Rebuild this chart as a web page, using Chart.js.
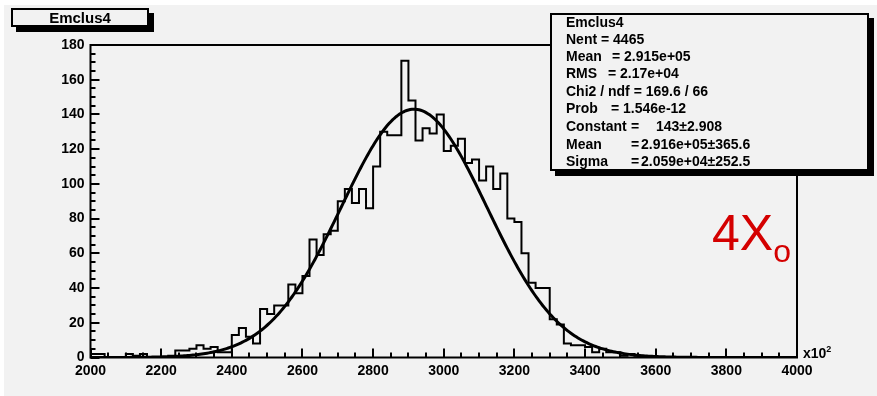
<!DOCTYPE html>
<html lang="en">
<head>
<meta charset="UTF-8">
<title>Emclus4</title>
<style>
  body { margin: 0; background: #ffffff; }
  .pad { position: relative; width: 877px; height: 396px; overflow: hidden; }
  .fill { position: absolute; left: 4px; top: 5px; right: 0; bottom: 0; background: #f2f2f2; }
  canvas { position: absolute; left: 0; top: 0; }
  .box {
    position: absolute;
    box-sizing: border-box;
    background: #f2f2f2;
    border: 2px solid #000;
    box-shadow: 5px 5px 0 #000;
    font: bold 14px Arial, "Liberation Sans", sans-serif;
    color: #000;
  }
  #title { left: 11px; top: 8px; width: 138px; height: 19px; text-align: center; line-height: 15px; font-size: 15px; }
  #stats { left: 550px; top: 13px; width: 319px; height: 158px; }
  #stats span { position: absolute; white-space: pre; line-height: 16px; }
  .xo {
    position: absolute; left: 712px; top: 204px;
    font: 50px Arial, "Liberation Sans", sans-serif; color: #d40000;
  }
  .xo sub { font-size: 32px; vertical-align: -12px; }
  .mult {
    position: absolute; left: 803px; top: 344px;
    font: bold 14px Arial, "Liberation Sans", sans-serif;
  }
  .mult sup { font-size: 9px; vertical-align: 6px; }
</style>
</head>
<body>
<div class="pad">
  <div class="fill"></div>
  <canvas id="hist" width="877" height="396"></canvas>
  <div class="box" id="title">Emclus4</div>
  <div class="box" id="stats">
    <span style="left:14px;top:-1px">Emclus4</span>
    <span style="left:14px;top:16px">Nent = 4465</span>
    <span style="left:14px;top:33px">Mean</span><span style="left:60px;top:33px">= 2.915e+05</span>
    <span style="left:14px;top:50px">RMS</span><span style="left:56px;top:50px">= 2.17e+04</span>
    <span style="left:14px;top:68px">Chi2 / ndf = 169.6 / 66</span>
    <span style="left:14px;top:85px">Prob</span><span style="left:59px;top:85px">= 1.546e-12</span>
    <span style="left:14px;top:103px">Constant</span><span style="left:79px;top:103px">=</span><span style="left:104px;top:103px">143±2.908</span>
    <span style="left:14px;top:121px">Mean</span><span style="left:79px;top:121px">=</span><span style="left:89px;top:121px">2.916e+05±365.6</span>
    <span style="left:14px;top:138px">Sigma</span><span style="left:79px;top:138px">=</span><span style="left:89px;top:138px">2.059e+04±252.5</span>
  </div>
  <div class="xo">4X<sub>o</sub></div>
  <div class="mult">x10<sup>2</sup></div>
</div>

<script src="https://cdn.jsdelivr.net/npm/chart.js/dist/chart.umd.min.js"></script>
<script>
// histogram binning (axis in units of x10^2)
const binLow = 2000
const binWidth = 20
const counts = [
  2, 2, 0, 0, 0, 2, 1, 2, 0, 0,
  0, 1, 4, 4, 5, 7, 5, 6, 3, 3,
  13, 17, 12, 8, 28, 25, 30, 30, 42, 37,
  47, 68, 59, 71, 73, 90, 97, 89, 97, 86,
  110, 130, 128, 128, 171, 148, 125, 132, 129, 140,
  119, 122, 126, 112, 114, 102, 110, 97, 106, 80,
  78, 60, 43, 40, 40, 22, 19, 8, 7, 7,
  6, 3, 5, 3, 3, 1, 2, 1, 0, 0,
  0, 0, 0, 0, 0, 0, 0, 0, 0, 0,
  0, 0, 0, 0, 0, 0, 0, 0, 0, 0
]

// gaussian fit result
const fitConstant = 143
const fitMean = 2916
const fitSigma = 205.9

const xMin = 2000, xMax = 4000
const yMin = 0, yMax = 180

// step outline: one point per lower bin edge plus the closing edge
const histPoints = counts.map((c, i) => ({ x: binLow + i * binWidth, y: c }))
histPoints.push({ x: binLow + counts.length * binWidth, y: counts[counts.length - 1] })

const fitPoints = []
for (let x = xMin; x <= xMax; x += 5) {
  const t = (x - fitMean) / fitSigma
  fitPoints.push({ x: x, y: fitConstant * Math.exp(-0.5 * t * t) })
}

const labelFont = { family: 'Arial, "Liberation Sans", sans-serif', size: 14, weight: 'bold' }

// frame + inward ticks, drawn over the histogram like ROOT axes
const rootAxes = {
  id: 'rootAxes',
  afterDatasetsDraw(chart) {
    const { ctx, chartArea: a, scales: { x, y } } = chart
    ctx.save()
    ctx.strokeStyle = '#000'
    ctx.lineWidth = 2
    ctx.strokeRect(a.left, a.top, a.right - a.left, a.bottom - a.top)
    ctx.beginPath()
    for (let v = xMin; v <= xMax; v += 50) {
      const px = Math.round(x.getPixelForValue(v))
      const len = v % 200 === 0 ? 9 : 5
      ctx.moveTo(px, a.bottom)
      ctx.lineTo(px, a.bottom - len)
    }
    for (let v = yMin; v <= yMax; v += 5) {
      const py = Math.round(y.getPixelForValue(v))
      const len = v % 20 === 0 ? 9 : 5
      ctx.moveTo(a.left, py)
      ctx.lineTo(a.left + len, py)
    }
    ctx.stroke()
    ctx.restore()
  }
}

new Chart(document.getElementById('hist'), {
  type: 'line',
  data: {
    datasets: [
      {
        label: 'fit',
        data: fitPoints,
        borderColor: '#000',
        borderWidth: 3,
        pointRadius: 0,
        tension: 0,
        order: 0
      },
      {
        label: 'Emclus4',
        data: histPoints,
        stepped: 'before',
        borderColor: '#000',
        borderWidth: 2,
        pointRadius: 0,
        order: 1
      }
    ]
  },
  options: {
    responsive: false,
    animation: false,
    layout: { padding: { left: 0, top: 45, right: 80, bottom: 0 } },
    plugins: { legend: { display: false }, tooltip: { enabled: false } },
    scales: {
      x: {
        type: 'linear',
        min: xMin,
        max: xMax,
        grid: { display: false, drawTicks: false, tickLength: 0 },
        border: { display: false },
        ticks: {
          stepSize: 200, autoSkip: false, maxRotation: 0, padding: 5, color: '#000', font: labelFont,
          callback: (v) => String(v)
        },
        afterFit: (scale) => { scale.height = 38.5 }
      },
      y: {
        min: yMin,
        max: yMax,
        grid: { display: false, drawTicks: false, tickLength: 0 },
        border: { display: false },
        ticks: { stepSize: 20, padding: 6, color: '#000', font: labelFont },
        afterFit: (scale) => { scale.width = 90.5 }
      }
    }
  },
  plugins: [rootAxes]
})
</script>
</body>
</html>
